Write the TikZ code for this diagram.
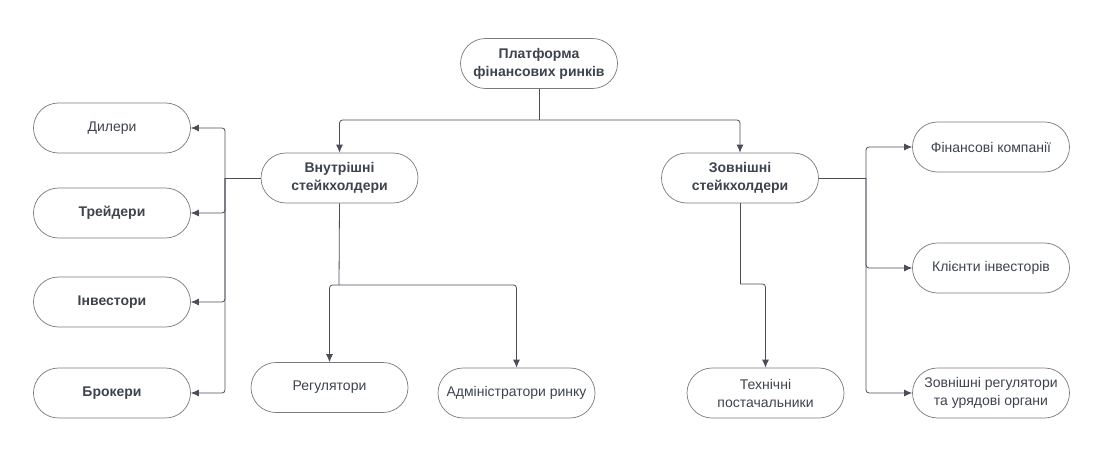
\documentclass[tikz,border=0pt]{standalone}
\usepackage{fontspec}
\setmainfont{Liberation Sans}
\usetikzlibrary{arrows.meta}
\definecolor{txtgray}{HTML}{3D434C}
\definecolor{linegray}{HTML}{4A4F57}
\definecolor{boxgray}{HTML}{7A7A7A}

\begin{document}
\begin{tikzpicture}[x = 1pt, y = -1pt,
    box/.style = {draw=boxgray, line width=0.7pt, rounded corners=25pt, minimum width=157pt, minimum height=50pt, inner sep=0pt, align=center, text=txtgray, font=\fontsize{14}{18}\selectfont},
    bbox/.style = {box, font=\fontsize{14}{18}\selectfont\bfseries},
    link/.style = {draw=linegray, line width=0.8pt, rounded corners=3pt},
    arr/.style = {link, -{Latex[length=8pt, width=7pt]}}]
%frame
    \useasboundingbox (0,0) rectangle (1093,452);
%coordinate
    \coordinate (jtop) at (539,120); \coordinate (jin) at (225,178);
    \coordinate (jinb) at (339,285); \coordinate (jout) at (866,178);
    \coordinate (joutb) at (740,284);
%node
    \node[bbox] (plat) at (539,63.5) {Платформа\\фінансових ринків};
    \node[bbox] (vnutr) at (339.5,178) {Внутрішні\\стейкхолдери};
    \node[bbox] (zovn) at (740,178) {Зовнішні\\стейкхолдери};
    \node[box] (dyl) at (112,128) {Дилери};
    \node[bbox] (treid) at (112,213) {Трейдери};
    \node[bbox] (invest) at (112,302) {Інвестори};
    \node[bbox] (brok) at (112,393) {Брокери};
    \node[box] (regul) at (329.5,387.5) {Регулятори};
    \node[box] (admin) at (516.5,393) {Адміністратори ринку};
    \node[box] (tekh) at (765.5,393) {Технічні\\постачальники};
    \node[box] (finkomp) at (991,147) {Фінансові компанії};
    \node[box] (klient) at (991,268) {Клієнти інвесторів};
    \node[box] (zovnreg) at (991,393) {Зовнішні регулятори\\та урядові органи};
%top
    \draw[link] (plat.south) -- (jtop);
    \draw[arr] (jtop) -| (vnutr.north); \draw[arr] (jtop) -| (zovn.north);
%inner
    \draw[link] (vnutr.west) -- (jin);
    \draw[arr] (jin) |- (dyl.east); \draw[arr] (jin) |- (treid.east);
    \draw[arr] (jin) |- (invest.east); \draw[arr] (jin) |- (brok.east);
    \draw[link] (vnutr.south) -- (jinb);
    \draw[arr] (jinb) -| (regul.north); \draw[arr] (jinb) -| (admin.north);
%outer
    \draw[link] (zovn.east) -- (jout);
    \draw[arr] (jout) |- (finkomp.west); \draw[arr] (jout) |- (klient.west);
    \draw[arr] (jout) |- (zovnreg.west);
    \draw[link] (zovn.south) -- (joutb);
    \draw[arr] (joutb) -| (tekh.north);
\end{tikzpicture}
\end{document}
